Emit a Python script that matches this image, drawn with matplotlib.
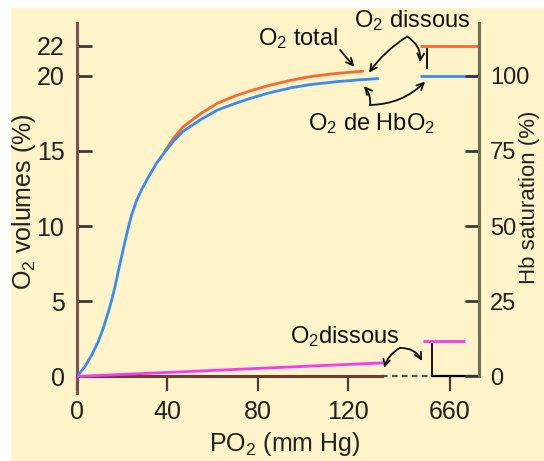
import matplotlib
matplotlib.use("Agg")
import matplotlib.pyplot as plt
from matplotlib.patches import Rectangle

plt.rcParams['font.family'] = ['Liberation Sans', 'DejaVu Sans']
plt.rcParams['mathtext.fontset'] = 'custom'
plt.rcParams['mathtext.rm'] = 'Liberation Sans'
plt.rcParams['mathtext.it'] = 'Liberation Sans'
plt.rcParams['mathtext.bf'] = 'Liberation Sans'

# ---- data ----
hbo2_p = [0, 3.5, 6.5, 9.4, 11.6, 13.9, 15.4, 16.8, 18.3, 19.8, 21.3, 22.7, 24.2, 26.4,
          28.7, 31.6, 35.3, 39, 43, 47, 55, 62, 70, 77, 85, 95, 103, 115, 125, 133]
hbo2_v = [0, 0.65, 1.43, 2.31, 3.2, 4.3, 5.1, 5.95, 7.0, 8.0, 9.0, 9.9, 10.75, 11.7,
          12.45, 13.25, 14.2, 14.95, 15.7, 16.3, 17.1, 17.7, 18.15, 18.5, 18.85, 19.2, 19.4,
          19.6, 19.72, 19.8]
total_p = [39, 43, 47, 55, 62, 70, 77, 85, 95, 103, 115, 127]
total_v = [15.0, 15.9, 16.6, 17.5, 18.15, 18.65, 19.0, 19.35, 19.7, 19.93, 20.15, 20.3]
dissous_p = [0, 135]
dissous_v = [0, 0.9]
# values at 660 mm Hg (pure O2), drawn on the broken right-hand part
high_p = [152, 178]
high_total = [22, 22]
high_hbo2 = [20, 20]
high_diss_p = [153, 172]
high_diss = [2.37, 2.37]

xticks = [0, 40, 80, 120, 165]
xticklabels = ['0', '40', '80', '120', '660']
yticks_left = [0, 5, 10, 15, 20, 22]
yticks_right = [0, 25, 50, 75, 100]

cream = '#FEF3C9'
orange = '#FA6A30'
blue = '#3A8CF2'
magenta = '#F23CF0'

fig = plt.figure(figsize=(5.44, 4.61), dpi=100)
fig.patch.set_facecolor('white')
fig.patches.append(Rectangle((11/544, 0), 1, 1 - 8/461, transform=fig.transFigure,
                             facecolor=cream, edgecolor='none', zorder=-10))

ax = fig.add_axes([77/544, (461-393)/461, 402/544, 370/461])
ax.set_facecolor('none')
ax.set_xlim(0, 178)
ax.set_ylim(-1.1, 23.5)

ax.plot(total_p, total_v, color=orange, lw=2.0, solid_capstyle='butt',
        solid_joinstyle='round', zorder=3)
ax.plot(hbo2_p, hbo2_v, color=blue, lw=2.0, solid_joinstyle='round', zorder=4)
ax.plot(dissous_p, dissous_v, color=magenta, lw=2.0, zorder=4)
ax.plot(high_p, high_total, color=orange, lw=2.0, solid_capstyle='butt', zorder=3)
ax.plot(high_p, high_hbo2, color=blue, lw=2.0, solid_capstyle='butt', zorder=3)
ax.plot(high_diss_p, high_diss, color=magenta, lw=2.0, solid_capstyle='butt', zorder=3)

# broken axis pieces
ax.plot([135, 157.2], [0, 0], color='#555555', lw=1.6, ls=(0, (2.5, 2)), zorder=2, clip_on=False)
ax.plot([157.2, 178], [0, 0], color='black', lw=1.6, zorder=2, clip_on=False)
ax.plot([157.2, 157.2], [0, 2.16], color='black', lw=1.3, zorder=2)
ax.plot([155, 155], [20.5, 21.75], color='black', lw=1.3, zorder=2)

for s in ['top', 'right']:
    ax.spines[s].set_visible(False)
ax.spines['left'].set_color('#7A5252')
ax.spines['left'].set_linewidth(2.2)
ax.spines['bottom'].set_position(('data', 0))
ax.spines['bottom'].set_bounds(0, 135)
ax.spines['bottom'].set_color('#6E3B2E')
ax.spines['bottom'].set_linewidth(2.2)

ax.set_xticks(xticks)
ax.set_xticklabels(xticklabels)
ax.set_yticks(yticks_left)
ax.tick_params(axis='x', direction='out', length=11, width=1.6, color='#4A3A30',
               labelsize=18, pad=6, labelcolor='#222222')
ax.tick_params(axis='y', direction='in', length=11, width=2.0, color='#3A3A3A',
               labelsize=18, pad=9, labelcolor='#222222')

ax2 = ax.twinx()
ax2.set_ylim(-5.5, 117.5)
ax2.set_yticks(yticks_right)
for s in ['top', 'left', 'bottom']:
    ax2.spines[s].set_visible(False)
ax2.spines['right'].set_bounds(0, 117.5)
ax2.spines['right'].set_color('#6F6E4E')
ax2.spines['right'].set_linewidth(2.2)
ax2.tick_params(axis='y', direction='in', length=10, width=2.0, color='#3A3A3A',
                labelsize=17, pad=8, labelcolor='#222222')

# axis labels
fig.text(24/544, 1 - 202/461, r'O$_2$ volumes (%)', rotation=90, ha='center', va='center',
         fontsize=18, color='#222222')
fig.text(530/544, 1 - 197/461, 'Hb saturation (%)', rotation=90, ha='center', va='center',
         fontsize=16, color='#222222')
fig.text(285/544, 1 - 444/461, r'PO$_2$ (mm Hg)', ha='center', va='center',
         fontsize=18, color='#222222')

# annotations
tk = dict(fontsize=17, color='#111111', ha='center', va='center')
ax.text(98, 22.44, r'O$_2$ total', **tk)
ax.text(148.4, 23.63, r'O$_2$ dissous', **tk)
ax.text(130.6, 16.8, r'O$_2$ de HbO$_2$', **tk)
ax.text(118.7, 2.67, r'O$_2$dissous', **tk)

def arrow(start, end, rad):
    ax.annotate('', xy=end, xytext=start, annotation_clip=False,
                arrowprops=dict(arrowstyle='->', lw=1.3, color='#111111',
                                connectionstyle=f'arc3,rad={rad}', shrinkA=0, shrinkB=0,
                                mutation_scale=12))

arrow((116.5, 21.7), (122.7, 20.6), 0.0)
arrow((146.2, 22.6), (129.3, 20.2), 0.1)
arrow((146.2, 22.6), (151.9, 20.9), -0.3)
arrow((129.8, 18.05), (127.1, 19.3), 0.2)
arrow((129.8, 18.05), (154.1, 19.6), 0.2)
arrow((143.0, 1.9), (136.0, 0.57), 0.2)
arrow((143.0, 1.9), (152.8, 1.03), -0.3)

fig.savefig('out.png', dpi=100)
